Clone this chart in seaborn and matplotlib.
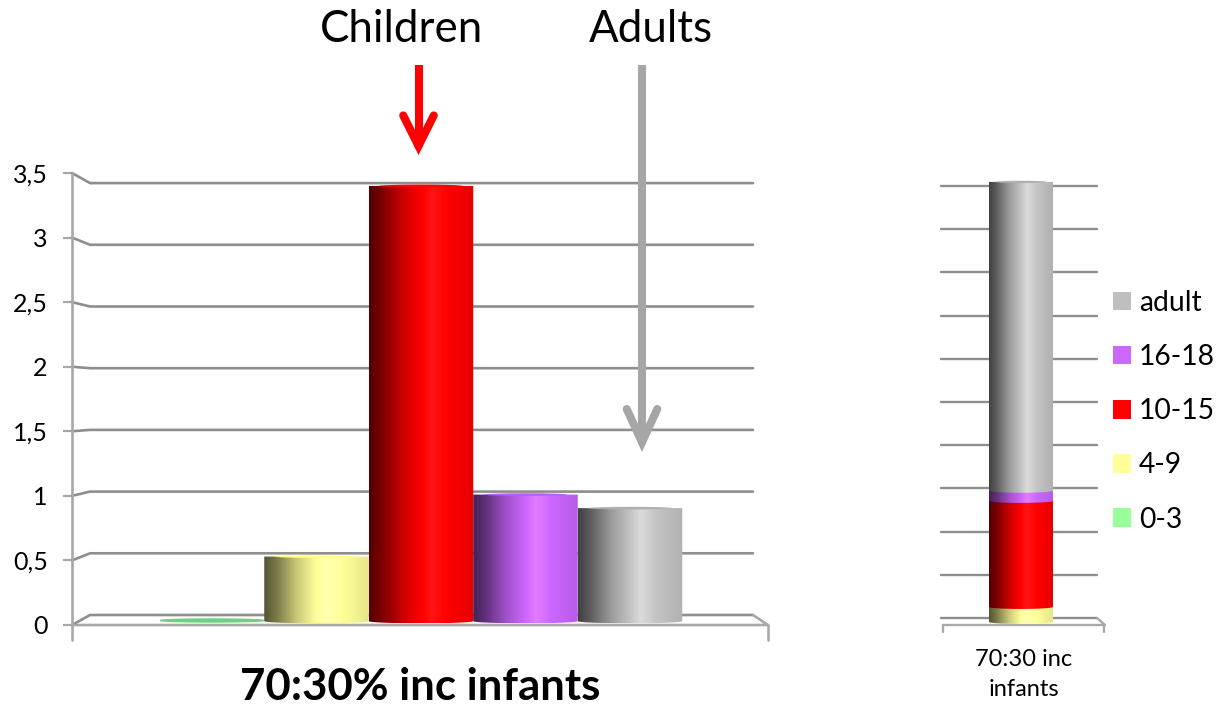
import numpy as np
import pandas as pd
import matplotlib
matplotlib.use("Agg")
import matplotlib.pyplot as plt
from matplotlib.colors import to_rgb
from matplotlib.lines import Line2D
from matplotlib.patches import Ellipse, FancyArrowPatch, PathPatch, Patch
from matplotlib.path import Path
from matplotlib.transforms import ScaledTranslation
import seaborn as sns

# Data
age_groups = ["0-3", "4-9", "10-15", "16-18", "adult"]
group_colors = ["#99ff99", "#ffff99", "#ff0000", "#cc66ff", "#c4c4c4"]
legend_colors = ["#bfbfbf", "#cc66ff", "#ff0000", "#ffff99", "#99ff99"]
rate_values = [0.01, 0.50, 3.37, 0.98, 0.875]
share_values = [0.0, 3.4, 24.1, 2.3, 70.2]
rate_ticks = [0, 0.5, 1, 1.5, 2, 2.5, 3, 3.5]
rate_tick_labels = ["0", "0,5", "1", "1,5", "2", "2,5", "3", "3,5"]
share_ticks = [0, 10, 20, 30, 40, 50, 60, 70, 80, 90, 100]
stack_label = "70:30 inc\ninfants"
left_title = "70:30% inc infants"

W, H = 1218, 705
GRID = "#8e8e8e"
AXIS = "#a8a8a8"

sns.set_theme(style="white")
plt.rcParams["font.family"] = ["Lato", "DejaVu Sans"]

fig = plt.figure(figsize=(W / 100, H / 100), dpi=100, facecolor="white")


def axes_at(x0, x1, y_top, y_bottom):
    return fig.add_axes([x0 / W, 1 - y_bottom / H, (x1 - x0) / W, (y_bottom - y_top) / H])


def shade_strip(color, flat=False):
    """Horizontal shading of a cylinder lit from just right of its centre."""
    stops = [0.0, 0.12, 0.32, 0.5, 0.6, 0.75, 1.0]
    gains = [0.33, 0.48, 0.80, 1.0, 1.10, 1.0, 0.90]
    rgb = np.array(to_rgb(color))
    t = np.linspace(0, 1, 200)
    gain = np.ones_like(t)[:, None] if flat else np.interp(t, stops, gains)[:, None]
    lit = np.clip(rgb * gain, 0, 1)
    glow = np.maximum(gain - 1, 0) * 0.8
    return np.clip(lit + (1 - lit) * glow, 0, 1)[None, :, :]


def cylinder(ax, patch, color, cap_height, top_cap=True, flat=False):
    """Repaint a flat seaborn bar as a shaded cylinder."""
    x0, w = patch.get_x(), patch.get_width()
    y0, h = patch.get_y(), patch.get_height()
    if h <= 0:
        return
    patch.set_visible(False)
    cx, rx = x0 + w / 2, w / 2
    a = np.linspace(np.pi, 2 * np.pi, 40)
    lower = np.c_[cx + rx * np.cos(a), y0 + cap_height * np.sin(a)]
    if h < 2 * cap_height:
        upper = np.c_[cx - rx * np.cos(a), y0 + h - cap_height * np.sin(a)]
    else:
        upper = np.array([[x0 + w, y0 + h], [x0, y0 + h]])
    verts = np.vstack([lower, upper, lower[:1]])
    outline = PathPatch(Path(verts), transform=ax.transData, facecolor="none", edgecolor="none")
    ax.add_patch(outline)
    img = ax.imshow(shade_strip(color, flat), extent=(x0, x0 + w, y0 - cap_height, y0 + h + cap_height),
                    aspect="auto", zorder=3, interpolation="bilinear")
    img.set_clip_path(outline)
    if top_cap and h >= 2 * cap_height:
        rgb = np.array(to_rgb(color))
        ax.add_patch(Ellipse((cx, y0 + h), w * 0.8, cap_height * 1.2,
                             facecolor=np.clip(rgb * 0.9 + 0.1 * (rgb > 0.9), 0, 1), edgecolor="none", zorder=3.1))


# Left panel: one cylinder per age group
ax = axes_at(72, 768, 173, 625)
px_x = lambda px: (px - 212) / 104.5
baseline = 0.03
rates = pd.DataFrame({"group": age_groups, "value": rate_values})
sns.barplot(data=rates, x="group", y="value", hue="group", order=age_groups, hue_order=age_groups,
            palette=group_colors, width=1.0, dodge=False, legend=False, ax=ax, bottom=baseline)
patches = list(ax.patches)
ax.set_xlim(px_x(72), px_x(768))
ax.set_ylim(0, 3.5)
for patch, color, value in zip(patches, group_colors, rate_values):
    if color == "#99ff99":
        cylinder(ax, patch, "#70d080", 0.012, flat=True)
    else:
        cylinder(ax, patch, color, 0.017)
ax.set_xlim(px_x(72), px_x(768))
ax.set_ylim(0, 3.5)

back_rate = lambda v: (625 - (615 - v * 123.4)) / 129.14
for v in rate_ticks:
    ax.plot([px_x(72), px_x(90), px_x(753)], [v, back_rate(v), back_rate(v)],
            color=GRID, lw=1.9, zorder=1, clip_on=False, solid_joinstyle="round")
ax.plot([px_x(72), px_x(768), px_x(753)], [0, 0, back_rate(0)], color=AXIS, lw=1.9, zorder=1, clip_on=False)
for px in (72, 768):
    ax.plot([px_x(px)] * 2, [0, -15 / 129.14], color=AXIS, lw=1.9, clip_on=False, zorder=1)

sns.despine(ax=ax, left=False, bottom=True, right=True, top=True)
ax.patch.set_visible(False)
ax.spines["left"].set_color(AXIS)
ax.spines["left"].set_linewidth(1.9)
ax.set_yticks(rate_ticks, rate_tick_labels)
ax.tick_params(axis="y", left=True, length=6.5, width=1.6, color=AXIS, pad=11, labelsize=18, labelcolor="black")
ax.set_xticks([])
ax.set_ylabel("")
ax.set_xlabel(left_title, fontsize=31.5, fontweight="bold", color="black")
ax.xaxis.set_label_coords((420 - 72) / 696, -(686.5 - 625) / 452, transform=ax.transAxes)
ax.xaxis.label.set_verticalalignment("center")

# Right panel: the same groups stacked to 100 %
rx = axes_at(941, 1105, 180, 625)
px_sx = lambda px: (px - 1021) / 64
sy = 4.4
offset = 0.7
bottoms = offset + np.concatenate([[0], np.cumsum(share_values)[:-1]])
for name, value, bottom, color in zip(age_groups, share_values, bottoms, group_colors):
    frame = pd.DataFrame({"sample": [stack_label], "value": [value]})
    sns.barplot(data=frame, x="sample", y="value", color=color, saturation=1, width=1.0,
                ax=rx, bottom=bottom)
stack = list(rx.patches)
rx.set_xlim(px_sx(941), px_sx(1105))
rx.set_ylim(0, 445 / sy)
for i, (patch, color) in enumerate(zip(stack, group_colors)):
    cylinder(rx, patch, color, 0.45, top_cap=(i == len(stack) - 1))
rx.set_xlim(px_sx(941), px_sx(1105))
rx.set_ylim(0, 445 / sy)

back_share = lambda v: (7 + v * 4.32) / sy
for v in share_ticks:
    rx.plot([px_sx(941), px_sx(1097)], [back_share(v)] * 2, color=GRID, lw=1.7, zorder=1, clip_on=False)
rx.plot([px_sx(943), px_sx(1105), px_sx(1097)], [0, 0, back_share(0)], color=AXIS, lw=1.7, zorder=1, clip_on=False)
for px in (943, 1104):
    rx.plot([px_sx(px)] * 2, [0, -7 / sy], color=AXIS, lw=1.7, clip_on=False, zorder=1)
sns.despine(ax=rx, left=True, bottom=True)
rx.patch.set_visible(False)
rx.set_yticks([])
rx.set_xlabel("")
rx.set_ylabel("")
rx.tick_params(axis="x", bottom=False, pad=11.5, labelsize=17, labelcolor="black")
for label in rx.get_xticklabels():
    label.set_linespacing(1.5)
    label.set_transform(label.get_transform() + ScaledTranslation(3 / 100, 0, fig.dpi_scale_trans))

# Legend, oldest group on top
handles = [Patch(facecolor=c, edgecolor="none", label=g) for g, c in zip(age_groups[::-1], legend_colors)]
fig.legend(handles=handles, loc="upper left", bbox_to_anchor=(1104.5 / W, 1 - 281.4 / H), frameon=False,
           fontsize=20.3, handlelength=0.64, handleheight=0.64, handletextpad=0.28,
           labelspacing=1.0, borderpad=0.3, borderaxespad=0, labelcolor="black")


# Group headings with their pointers
def pointer(x, y0, y1, color, head_len, head_w):
    fig.add_artist(Line2D([x / W, x / W], [1 - y0 / H, 1 - (y1 - 10) / H], transform=fig.transFigure,
                          color=color, lw=5.8, solid_capstyle="butt", zorder=5))
    fig.add_artist(FancyArrowPatch(
        (x / W, 1 - (y1 - 20) / H), (x / W, 1 - y1 / H), transform=fig.transFigure,
        arrowstyle=f"->,head_length={head_len},head_width={head_w}", mutation_scale=1,
        color=color, lw=5.8, capstyle="round", joinstyle="miter", shrinkA=0, shrinkB=0, zorder=5))


pointer(418.5, 65, 155, "#ff0000", 22, 11)
pointer(642, 65, 452, "#a6a6a6", 24, 11)
fig.text(401 / W, 1 - 30 / H, "Children", ha="center", va="center", fontsize=31.6, color="black")
fig.text(651 / W, 1 - 30 / H, "Adults", ha="center", va="center", fontsize=31.6, color="black")

fig.savefig("out.png", dpi=100, facecolor="white")
